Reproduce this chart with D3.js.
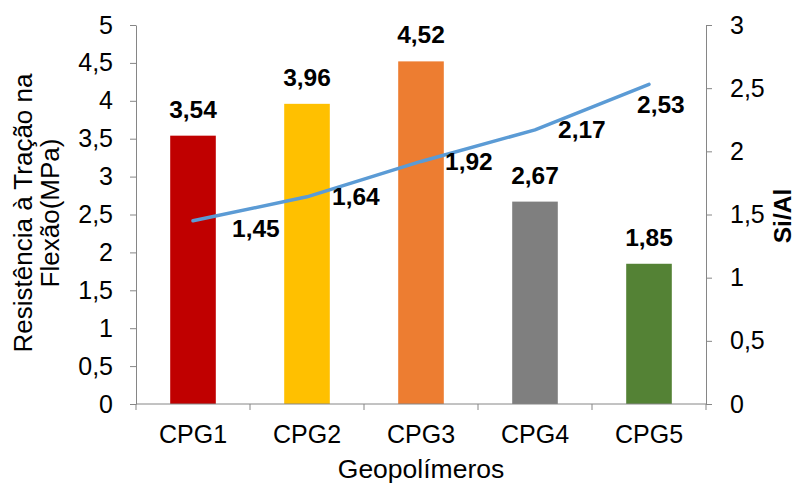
<!DOCTYPE html>
<html>
<head>
<meta charset="utf-8">
<script src="https://cdn.jsdelivr.net/npm/d3@7"></script>
<style>
  html, body { margin: 0; padding: 0; background: #fff; }
  svg { display: block; font-family: "Liberation Sans", Arial, sans-serif; }
</style>
</head>
<body>
<svg id="chart" width="801" height="486"></svg>
<script>
// Flexural tensile strength (bars, left axis) and Si/Al ratio (line, right axis)
const categories = ["CPG1", "CPG2", "CPG3", "CPG4", "CPG5"];
const resistencia = [3.54, 3.96, 4.52, 2.67, 1.85];
const siAl = [1.45, 1.64, 1.92, 2.17, 2.53];
const leftTicks = [0, 0.5, 1, 1.5, 2, 2.5, 3, 3.5, 4, 4.5, 5];
const rightTicks = [0, 0.5, 1, 1.5, 2, 2.5, 3];
const barColors = ["#C00000", "#FFC000", "#ED7D31", "#7F7F7F", "#548235"];

// Hand-placed offsets for the Si/Al value labels (px, relative to each point)
const lineLabelNudge = [[39, 8], [25, 0], [24, 0], [23, 0], [-12, 20]];

const ptBR = d3.formatLocale({ decimal: ",", thousands: ".", grouping: [3], currency: ["R$", ""] });
const fmtTick = ptBR.format(".1~f");
const fmtVal = ptBR.format(".2f");

const svg = d3.select("#chart");
const plot = { left: 136, right: 706, top: 25, bottom: 404 };
const axisColor = "#868686";
const tickFont = 25;

const x = d3.scaleBand().domain(categories).range([plot.left, plot.right])
  .paddingInner(0.6).paddingOuter(0.3);
const yL = d3.scaleLinear().domain([0, 5]).range([plot.bottom, plot.top]);
const yR = d3.scaleLinear().domain([0, 3]).range([plot.bottom, plot.top]);

// Bars
svg.append("g").selectAll("rect").data(resistencia).join("rect")
  .attr("x", (d, i) => x(categories[i]))
  .attr("y", d => yL(d))
  .attr("width", x.bandwidth())
  .attr("height", d => yL(0) - yL(d))
  .attr("fill", (d, i) => barColors[i]);

// Left axis
const gL = svg.append("g").attr("transform", `translate(${plot.left},0)`)
  .call(d3.axisLeft(yL).tickValues(leftTicks).tickFormat(fmtTick).tickSize(6).tickPadding(17).tickSizeOuter(0));
// Right axis
const gR = svg.append("g").attr("transform", `translate(${plot.right},0)`)
  .call(d3.axisRight(yR).tickValues(rightTicks).tickFormat(fmtTick).tickSize(6).tickPadding(18).tickSizeOuter(0));
[gL, gR].forEach(g => {
  g.select(".domain").attr("stroke", axisColor);
  g.selectAll(".tick line").attr("stroke", axisColor);
  g.selectAll("text").attr("font-size", tickFont).attr("fill", "#000")
    .attr("font-family", "Liberation Sans, Arial, sans-serif");
});

// Category axis: baseline and boundary ticks
const gX = svg.append("g");
gX.append("line").attr("x1", plot.left).attr("x2", plot.right)
  .attr("y1", plot.bottom).attr("y2", plot.bottom).attr("stroke", axisColor);
const bounds = d3.range(categories.length + 1).map(i => plot.left + i * x.step());
gX.selectAll("line.b").data(bounds).join("line").attr("class", "b")
  .attr("x1", d => d).attr("x2", d => d)
  .attr("y1", plot.bottom).attr("y2", plot.bottom + 6).attr("stroke", axisColor);
gX.selectAll("text").data(categories).join("text")
  .attr("x", d => x(d) + x.bandwidth() / 2)
  .attr("y", 443)
  .attr("text-anchor", "middle")
  .attr("font-size", tickFont)
  .text(d => d);

// Si/Al line
const linePts = siAl.map((v, i) => [x(categories[i]) + x.bandwidth() / 2, yR(v)]);
svg.append("path").datum(linePts)
  .attr("d", d3.line())
  .attr("fill", "none")
  .attr("stroke", "#5B9BD5")
  .attr("stroke-width", 3.5)
  .attr("stroke-linejoin", "round")
  .attr("stroke-linecap", "round");

// Bar value labels
svg.append("g").selectAll("text").data(resistencia).join("text")
  .attr("x", (d, i) => x(categories[i]) + x.bandwidth() / 2)
  .attr("y", d => yL(d) - 18)
  .attr("text-anchor", "middle")
  .attr("font-size", 24.5)
  .attr("font-weight", "bold")
  .text(d => fmtVal(d));

// Line value labels
svg.append("g").selectAll("text").data(siAl).join("text")
  .attr("x", (d, i) => linePts[i][0] + lineLabelNudge[i][0])
  .attr("y", (d, i) => linePts[i][1] + lineLabelNudge[i][1] + 8.6)
  .attr("font-size", 24.5)
  .attr("font-weight", "bold")
  .text(d => fmtVal(d));

// Axis titles
const yTitle = svg.append("text")
  .attr("transform", "translate(32,213) rotate(-90)")
  .attr("text-anchor", "middle")
  .attr("font-size", 26);
yTitle.append("tspan").attr("x", 0).attr("y", 0).text("Resistência à Tração na");
yTitle.append("tspan").attr("x", 0).attr("y", 27).text("Flexão(MPa)");

svg.append("text")
  .attr("transform", "translate(791,216) rotate(-90)")
  .attr("text-anchor", "middle")
  .attr("font-size", 24.5)
  .attr("font-weight", "bold")
  .text("Si/Al");

svg.append("text")
  .attr("x", (plot.left + plot.right) / 2)
  .attr("y", 478)
  .attr("text-anchor", "middle")
  .attr("font-size", 26.5)
  .text("Geopolímeros");
</script>
</body>
</html>
